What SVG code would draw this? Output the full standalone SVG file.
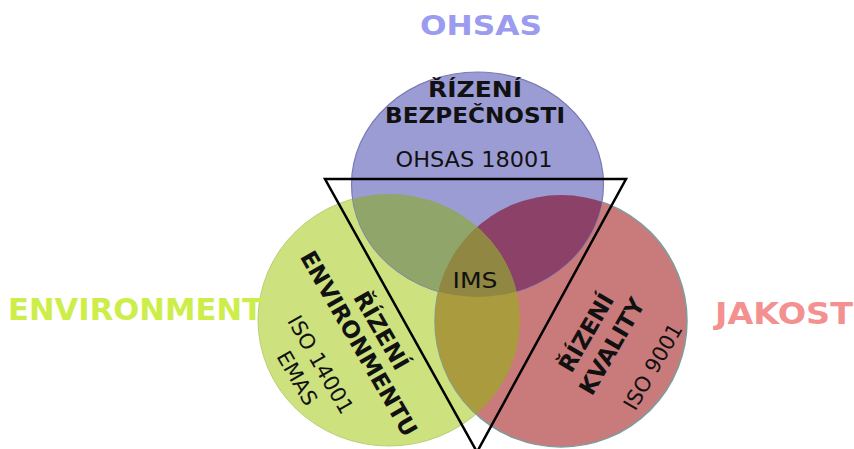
<svg xmlns="http://www.w3.org/2000/svg" width="854" height="449" viewBox="0 0 854 449">
<style>
.b{font-family:"DejaVu Sans","Liberation Sans",sans-serif;font-weight:bold;fill:#111;text-anchor:middle}
.r{font-family:"DejaVu Sans","Liberation Sans",sans-serif;fill:#111;text-anchor:middle}
.lbl{font-family:"DejaVu Sans","Liberation Sans",sans-serif;font-weight:bold}
</style>
<defs>
<ellipse id="cB" cx="477.5" cy="184.5" rx="126" ry="112.5"/>
<ellipse id="cG" cx="389" cy="320" rx="131" ry="126"/>
<ellipse id="cR" cx="561" cy="321" rx="126" ry="126"/>
<clipPath id="kB"><use href="#cB"/></clipPath>
<clipPath id="kG"><use href="#cG"/></clipPath>
<clipPath id="kR"><use href="#cR"/></clipPath>
</defs>
<rect width="854" height="449" fill="#fff"/>

<g id="environment">
<use href="#cG" fill="#cde17f" stroke="#b9cf75" stroke-width="1"/>
</g>
<g id="jakost">
<use href="#cR" fill="#c97b7b" stroke="#7f9c9c" stroke-width="1.5"/>
</g>
<g id="ohsas">
<use href="#cB" fill="#9c9cd4" stroke="#7b7bb5" stroke-width="1.2"/>
</g>
<g id="overlaps">
<use href="#cG" fill="#8fa56a" clip-path="url(#kB)"/>
<use href="#cR" fill="#8c4168" clip-path="url(#kB)"/>
<use href="#cG" fill="#aa9b3e" clip-path="url(#kR)"/>
<g clip-path="url(#kR)"><use href="#cG" fill="#8f8742" clip-path="url(#kB)"/></g>
</g>

<g id="triangle">
<polygon points="325,179 626,179 477,452" fill="none" stroke="#000" stroke-width="2.5" stroke-linejoin="miter"/>
</g>

<g id="labels">
<text class="lbl" x="481" y="35" font-size="27" fill="#9b9bef" text-anchor="middle" textLength="122" lengthAdjust="spacingAndGlyphs">OHSAS</text>
<text class="lbl" x="8" y="320" font-size="31" fill="#cdee4a" textLength="255" lengthAdjust="spacingAndGlyphs">ENVIRONMENT</text>
<text class="lbl" x="715" y="324" font-size="31" fill="#f39191" textLength="138" lengthAdjust="spacingAndGlyphs">JAKOST</text>
</g>

<g id="ohsas-text">
<text class="b" x="475" y="97" font-size="22" textLength="94" lengthAdjust="spacingAndGlyphs">ŘÍZENÍ</text>
<text class="b" x="475" y="123" font-size="22" textLength="180" lengthAdjust="spacingAndGlyphs">BEZPEČNOSTI</text>
<text class="r" x="474" y="167" font-size="21" textLength="157" lengthAdjust="spacingAndGlyphs">OHSAS 18001</text>
</g>

<g id="ims">
<text class="r" x="475" y="288" font-size="21" textLength="45" lengthAdjust="spacingAndGlyphs">IMS</text>
</g>

<g id="environment-text" transform="rotate(60)">
<text class="b" x="477" y="-157" font-size="23">ŘÍZENÍ</text>
<text class="b" x="477" y="-131" font-size="23">ENVIRONMENTU</text>
<text class="r" x="476" y="-88" font-size="21">ISO 14001</text>
<text class="r" x="476" y="-61" font-size="21">EMAS</text>
</g>

<g id="jakost-text" transform="rotate(-60)">
<text class="b" x="5" y="682" font-size="23">ŘÍZENÍ</text>
<text class="b" x="6" y="711" font-size="23">KVALITY</text>
<text class="r" x="9" y="756" font-size="21">ISO 9001</text>
</g>
</svg>
